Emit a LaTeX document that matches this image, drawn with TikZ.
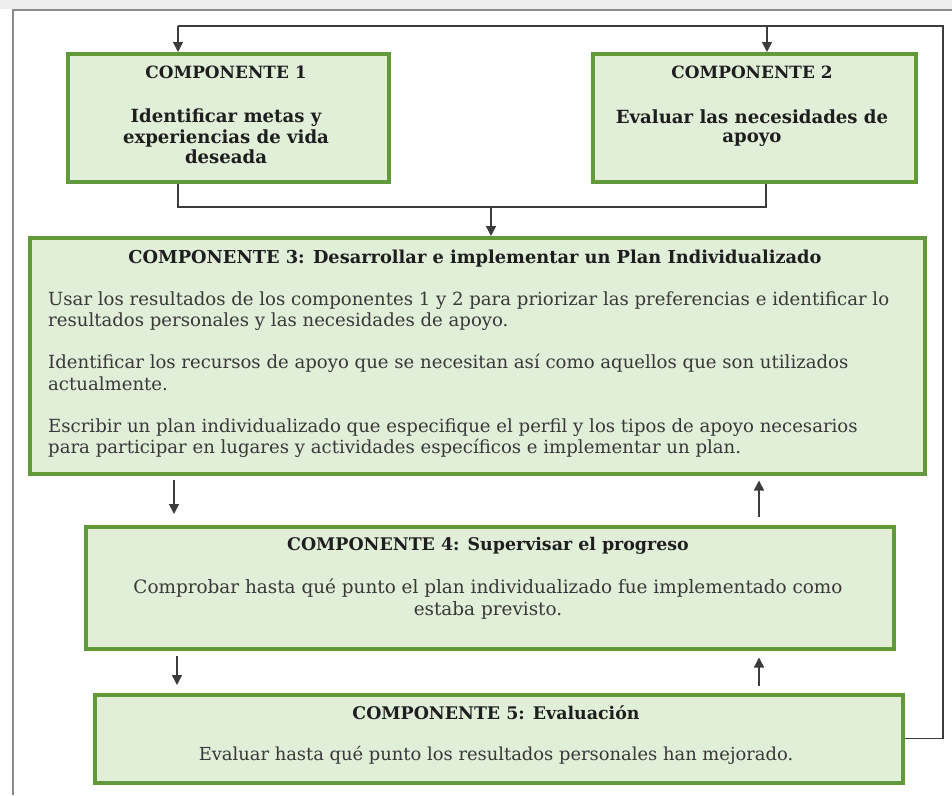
\documentclass[tikz,border=0pt]{standalone}
\usepackage{fontspec}
\setmainfont{DejaVu Serif}
\usetikzlibrary{arrows.meta}
\definecolor{boxfill}{HTML}{E1EED8}
\definecolor{boxline}{HTML}{62993B}
\definecolor{connc}{HTML}{3C3C3C}
\definecolor{framec}{HTML}{8A8A8A}
\definecolor{bandc}{HTML}{EEEEEE}
\definecolor{ttlc}{HTML}{1E1E1E}
\definecolor{bodyc}{HTML}{383838}
\begin{document}
\begin{tikzpicture}[x=1pt,y=-1pt,
  box/.style={draw=boxline, line width=3.5pt, fill=boxfill, anchor=north west, inner sep=0pt},
  ttl/.style={font=\fontsize{#1}{20}\selectfont\bfseries, text=ttlc, inner sep=0pt, anchor=base},
  btxt/.style={font=\fontsize{18.1}{21}\selectfont\bfseries, text=ttlc, inner sep=0pt, anchor=base},
  ptxt/.style={font=\fontsize{#1}{22}\selectfont, text=bodyc, inner sep=0pt, anchor=base west},
  ctxt/.style={font=\fontsize{#1}{22}\selectfont, text=bodyc, inner sep=0pt, anchor=base},
  conn/.style={draw=connc, line width=1.4pt},
  arr/.style={conn, -{Triangle[width=10pt,length=10pt]}},
  framel/.style={draw=framec, line width=1.6pt}]
\useasboundingbox (0,0) rectangle (952,795);
\fill[bandc] (0,0) rectangle (952,9);
\draw[framel] (952,10) -- (13,10) -- (13,795);

% boxes
\node[box, minimum width=321pt, minimum height=128pt] (b1) at (66,52) {};
\node[box, minimum width=323pt, minimum height=128pt] (b2) at (591,52) {};
\node[box, minimum width=895pt, minimum height=236pt] (b3) at (28,236) {};
\node[box, minimum width=808pt, minimum height=122pt] (b4) at (84,525) {};
\node[box, minimum width=808pt, minimum height=88pt] (b5) at (93,693) {};

% texts box 1
\node[ttl=16.9] (t1) at (226,78) {COMPONENTE 1};
\node[btxt] (d1a) at (226,122.5) {Identificar metas y};
\node[btxt] (d1b) at (226,143) {experiencias de vida};
\node[btxt] (d1c) at (226,163.5) {deseada};
% box 2
\node[ttl=16.9] (t2) at (752,78) {COMPONENTE 2};
\node[btxt] (d2a) at (752,123) {Evaluar las necesidades de};
\node[btxt] (d2b) at (752,142.5) {apoyo};
% box 3
\node[ttl=17.8] (t3) at (475,263) {COMPONENTE 3: Desarrollar e implementar un Plan Individualizado};
\node[ptxt=18.1] (p31a) at (48,305) {Usar los resultados de los componentes 1 y 2 para priorizar las preferencias e identificar lo};
\node[ptxt=18.1] (p31b) at (48,326.7) {resultados personales y las necesidades de apoyo.};
\node[ptxt=18.1] (p32a) at (48,368) {Identificar los recursos de apoyo que se necesitan así como aquellos que son utilizados};
\node[ptxt=18.1] (p32b) at (48,390) {actualmente.};
\node[ptxt=18.1] (p33a) at (48,432.5) {Escribir un plan individualizado que especifique el perfil y los tipos de apoyo necesarios};
\node[ptxt=18.1] (p33b) at (48,453.5) {para participar en lugares y actividades específicos e implementar un plan.};
% box 4
\node[ttl=17.4] (t4) at (488,550.5) {COMPONENTE 4: Supervisar el progreso};
\node[ctxt=18.4] (p4a) at (488,593) {Comprobar hasta qué punto el plan individualizado fue implementado como};
\node[ctxt=18.4] (p4b) at (488,615) {estaba previsto.};
% box 5
\node[ttl=17.4] (t5) at (496,719.5) {COMPONENTE 5: Evaluación};
\node[ctxt=17.9] (p5) at (496,760.5) {Evaluar hasta qué punto los resultados personales han mejorado.};

% connectors
\coordinate (ta) at (178,26);
\coordinate (tb) at (767,26);
\coordinate (tr) at (943,26);
\coordinate (ba) at (178,207);
\coordinate (bb) at (766,207);
\coordinate (bm) at (491,207);
\draw[conn] (b5.east) -| (tr) -- (ta);
\draw[arr] (ta) -- (ta |- b1.north);
\draw[arr] (tb) -- (tb |- b2.north);
\draw[conn] (ba |- b1.south) -- (ba) -- (bb) -- (bb |- b2.south);
\draw[arr] (bm) -- (bm |- b3.north);

\coordinate (xa) at (174,0);
\coordinate (xb) at (759,0);
\coordinate (xc) at (177,0);
\draw[arr, shorten <=4pt, shorten >=11pt] (xa |- b3.south) -- (xa |- b4.north);
\draw[arr, shorten <=8pt, shorten >=5pt] (xb |- b4.north) -- (xb |- b3.south);
\draw[arr, shorten <=5pt, shorten >=8pt] (xc |- b4.south) -- (xc |- b5.north);
\draw[arr, shorten <=7pt, shorten >=7pt] (xb |- b5.north) -- (xb |- b4.south);
\end{tikzpicture}
\end{document}
